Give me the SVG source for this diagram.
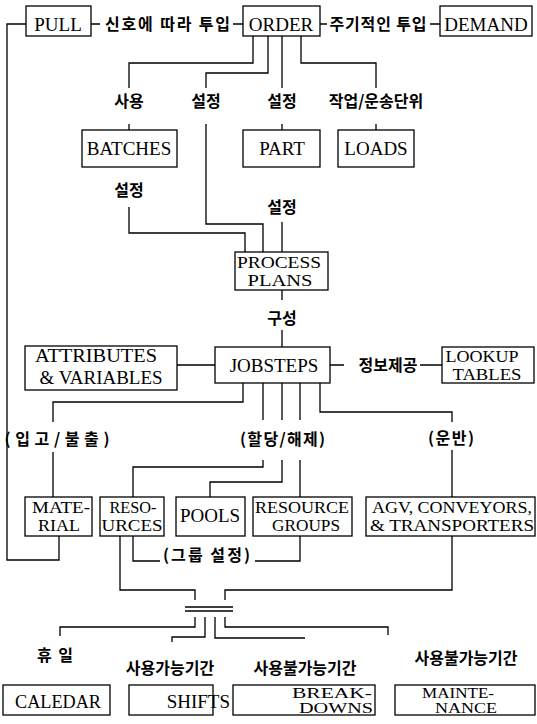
<svg xmlns="http://www.w3.org/2000/svg" width="537" height="724" viewBox="0 0 537 724">
<style>
.box{fill:#fff;stroke:#000;stroke-width:1.3}
.c{fill:none;stroke:#000;stroke-width:1.3}
.t{font-family:"Liberation Serif",serif;font-size:19px;fill:#000;text-anchor:middle}
.t2{font-family:"Liberation Serif",serif;font-size:17px;fill:#000;text-anchor:middle}
.t3{font-family:"Liberation Serif",serif;font-size:15px;fill:#000;text-anchor:middle}
.k{font-family:"Noto Sans CJK KR",sans-serif;font-size:16px;font-weight:700;fill:#000;text-anchor:middle}
</style>
<rect width="537" height="724" fill="#fff"/>
<g id="connectors">
<path class="c" d="M26,24 H7 V560 H59 V536"/>
<path class="c" d="M91,24 H100 M233,24 H243 M320,24 H327 M430,24 H440"/>
<path class="c" d="M253,36 V63 H129 V88 M129,124 V130"/>
<path class="c" d="M268,36 V73 H206 V88 M206,124 V224 H263 V252"/>
<path class="c" d="M282,36 V88 M282,124 V130"/>
<path class="c" d="M301,36 V63 H376 V88 M376,124 V130"/>
<path class="c" d="M129,207 V233 H245 V252"/>
<path class="c" d="M282,222 V252"/>
<path class="c" d="M282,290 V300 M282,330 V347"/>
<path class="c" d="M177,365 H215 M330,365 H344 M420,365 H442"/>
<path class="c" d="M243,383 V402 H53 V422 M53,452 V497"/>
<path class="c" d="M263,383 V420 M263,460 V467 H133 V497"/>
<path class="c" d="M282,383 V420 M282,460 V482 H210 V497"/>
<path class="c" d="M300,383 V420 M300,460 V497"/>
<path class="c" d="M320,383 V412 H452 V422 M452,450 V497"/>
<path class="c" d="M133,536 V561 H160 M255,561 H300 V536"/>
<path class="c" d="M120,536 V590 H195 V600"/>
<path class="c" d="M452,536 V590 H225 V600"/>
<path class="c" d="M185,607 H233 M185,611 H233" stroke-width="1.6"/>
<path class="c" d="M195,617 V627 H60 V636"/>
<path class="c" d="M205,617 V637 H172 V642"/>
<path class="c" d="M215,617 V638 H305"/>
<path class="c" d="M225,617 V627 H388 V635"/>
</g>
<g id="labels">
<text class="k" x="167.5" y="30" textLength="125">신호에 따라 투입</text>
<text class="k" x="378" y="30" textLength="97">주기적인 투입</text>
<text class="k" x="129" y="107">사용</text>
<text class="k" x="206" y="107">설정</text>
<text class="k" x="282" y="107">설정</text>
<text class="k" x="376" y="107">작업/운송단위</text>
<text class="k" x="129" y="196">설정</text>
<text class="k" x="282" y="213">설정</text>
<text class="k" x="282" y="324">구성</text>
<text class="k" x="388" y="371">정보제공</text>
<text class="k" x="57" y="445" textLength="105">(입고/불출)</text>
<text class="k" x="282.5" y="445" textLength="85">(할당/해제)</text>
<text class="k" x="451" y="444" textLength="46">(운반)</text>
<text class="k" x="206.5" y="561" textLength="87">(그룹 설정)</text>
<text class="k" x="55" y="661" textLength="36">휴 일</text>
<text class="k" x="170" y="674">사용가능기간</text>
<text class="k" x="305" y="674">사용불가능기간</text>
<text class="k" x="466" y="664">사용불가능기간</text>
</g>
<g id="PULL"><rect class="box" x="26" y="6" width="65" height="30"/><text class="t" x="58" y="31">PULL</text></g>
<g id="ORDER"><rect class="box" x="243" y="6" width="77" height="30"/><text class="t" x="281" y="31">ORDER</text></g>
<g id="DEMAND"><rect class="box" x="440" y="6" width="92" height="30"/><text class="t" x="486" y="31">DEMAND</text></g>
<g id="BATCHES"><rect class="box" x="82" y="130" width="95" height="37"/><text class="t" x="129" y="155">BATCHES</text></g>
<g id="PART"><rect class="box" x="243" y="130" width="77" height="37"/><text class="t" x="282" y="155">PART</text></g>
<g id="LOADS"><rect class="box" x="338" y="130" width="76" height="37"/><text class="t" x="376" y="155">LOADS</text></g>
<g id="PROCESS_PLANS"><rect class="box" x="235" y="252" width="93" height="38"/><text class="t2" x="279" y="268" textLength="84" lengthAdjust="spacingAndGlyphs">PROCESS</text><text class="t2" x="280" y="286" textLength="65" lengthAdjust="spacingAndGlyphs">PLANS</text></g>
<g id="JOBSTEPS"><rect class="box" x="215" y="347" width="115" height="36"/><text class="t" x="274" y="372">JOBSTEPS</text></g>
<g id="ATTRIBUTES"><rect class="box" x="25" y="346" width="152" height="44"/><text class="t" x="96" y="362" textLength="122" lengthAdjust="spacingAndGlyphs">ATTRIBUTES</text><text class="t" x="101" y="384" textLength="123" lengthAdjust="spacingAndGlyphs">&amp; VARIABLES</text></g>
<g id="LOOKUP"><rect class="box" x="442" y="347" width="92" height="36"/><text class="t2" x="482" y="362" textLength="73" lengthAdjust="spacingAndGlyphs">LOOKUP</text><text class="t2" x="487" y="380" textLength="69" lengthAdjust="spacingAndGlyphs">TABLES</text></g>
<g id="MATERIAL"><rect class="box" x="25" y="497" width="67" height="39"/><text class="t2" x="61" y="513" textLength="58" lengthAdjust="spacingAndGlyphs">MATE-</text><text class="t2" x="59" y="531" textLength="42" lengthAdjust="spacingAndGlyphs">RIAL</text></g>
<g id="RESOURCES"><rect class="box" x="100" y="497" width="64" height="39"/><text class="t2" x="133" y="513" textLength="47" lengthAdjust="spacingAndGlyphs">RESO-</text><text class="t2" x="132" y="531" textLength="61" lengthAdjust="spacingAndGlyphs">URCES</text></g>
<g id="POOLS"><rect class="box" x="176" y="497" width="69" height="39"/><text class="t" x="210" y="522">POOLS</text></g>
<g id="RESOURCE_GROUPS"><rect class="box" x="253" y="497" width="99" height="39"/><text class="t2" x="302" y="513" textLength="94" lengthAdjust="spacingAndGlyphs">RESOURCE</text><text class="t2" x="306" y="531" textLength="68" lengthAdjust="spacingAndGlyphs">GROUPS</text></g>
<g id="AGV"><rect class="box" x="366" y="497" width="169" height="39"/><text class="t2" x="452" y="513" textLength="160" lengthAdjust="spacingAndGlyphs">AGV, CONVEYORS,</text><text class="t2" x="452" y="531" textLength="164" lengthAdjust="spacingAndGlyphs">&amp; TRANSPORTERS</text></g>
<g id="CALEDAR"><rect class="box" x="3" y="685" width="107" height="30"/><text class="t" x="58" y="708" textLength="86" lengthAdjust="spacingAndGlyphs">CALEDAR</text></g>
<g id="SHIFTS"><rect class="box" x="129" y="685" width="84" height="30"/><text class="t" x="230" y="708" style="text-anchor:end">SHIFTS</text></g>
<g id="BREAKDOWNS"><rect class="box" x="233" y="685" width="142" height="30"/><text class="t3" x="372" y="698" style="text-anchor:end" textLength="80" lengthAdjust="spacingAndGlyphs">BREAK-</text><text class="t3" x="373" y="713" style="text-anchor:end" textLength="74" lengthAdjust="spacingAndGlyphs">DOWNS</text></g>
<g id="MAINTENANCE"><rect class="box" x="395" y="685" width="140" height="30"/><text class="t3" x="458" y="698" textLength="72" lengthAdjust="spacingAndGlyphs">MAINTE-</text><text class="t3" x="466" y="713" textLength="62" lengthAdjust="spacingAndGlyphs">NANCE</text></g>
</svg>
